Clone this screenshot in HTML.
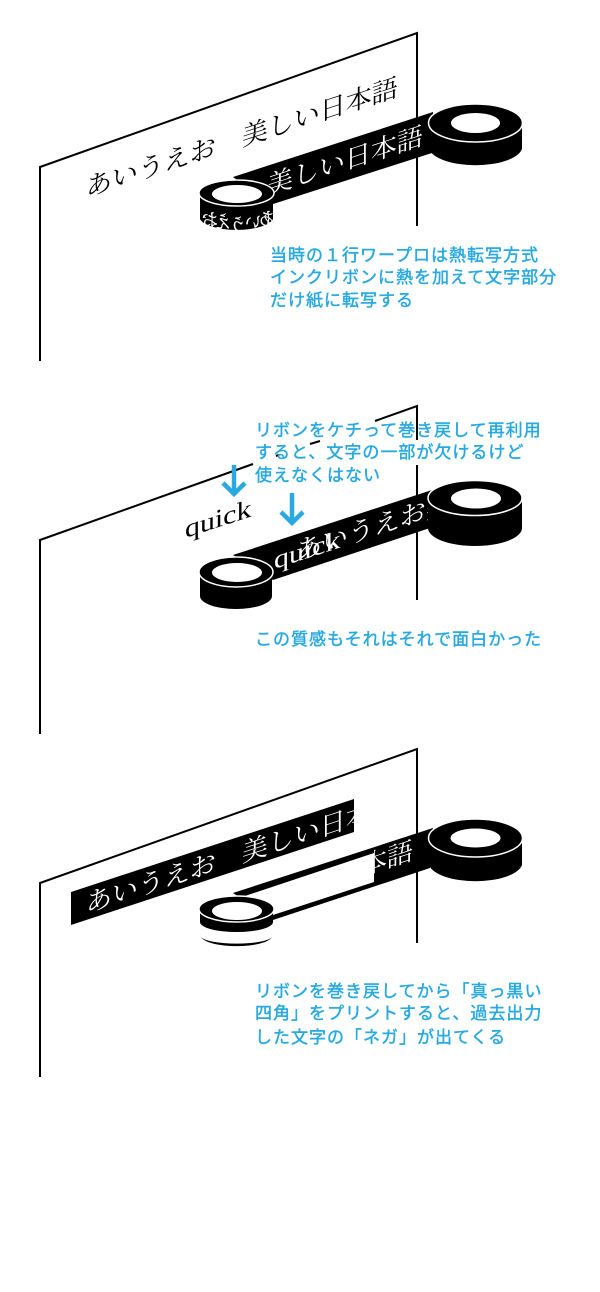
<!DOCTYPE html>
<html lang="ja"><head><meta charset="utf-8"><style>
html,body{margin:0;padding:0;background:#fff;width:600px;height:1292px;overflow:hidden}
svg{display:block}
.s{font-family:"Liberation Serif","Noto Serif CJK SC",serif;font-size:26px}
.q{font-family:"Liberation Serif",serif;font-size:26px}
.b{font-family:"Liberation Sans","Noto Sans CJK JP",sans-serif;font-size:17px;font-weight:400;fill:#29a9e0;stroke:#29a9e0;stroke-width:.45px;letter-spacing:1px}
.w{fill:#fff}
</style></head><body>
<svg width="600" height="1292" viewBox="0 0 600 1292" xmlns="http://www.w3.org/2000/svg">
<defs>
<clipPath id="r1"><polygon points="233,177 433,112 435,152 270,205"/></clipPath>
<clipPath id="r2"><polygon points="233,555 432,490 430,528 273,580"/></clipPath>
<clipPath id="r3"><polygon points="374,800 440,800 440,890 374,890"/></clipPath>
<clipPath id="p3"><polygon points="71,892 354,799 354,832 71,925"/></clipPath>
<clipPath id="sd"><path d="M199,195 V219 A37,13 0 0 0 274,219 V195 Z"/></clipPath>
</defs>

<!-- Panel 1 -->
<path d="M40,361 V167 L417,33 V226" fill="none" stroke="#000" stroke-width="2"/>
<text class="s" transform="matrix(1,-.325,0,1,86,197)">あいうえお　美しい日本語</text>
<polygon points="233,177 433,112 435,152 270,205"/>
<g clip-path="url(#r1)"><text class="s w" transform="matrix(1,-.325,0,1,267,195)">美しい日本語</text></g>
<path d="M429,123 V149 A47,19 0 0 0 522,149 V123 Z"/>
<ellipse cx="475.500" cy="123" rx="47" ry="19" stroke="#fff" stroke-width="1.500"/>
<ellipse cx="475.500" cy="123" rx="24.500" ry="10" fill="#fff"/>
<path d="M200,193 V219 A37,13 0 0 0 273,219 V193 Z"/>
<ellipse cx="236.500" cy="193" rx="37.500" ry="13" stroke="#fff" stroke-width="1.500"/>
<ellipse cx="237" cy="194" rx="25" ry="9" fill="#fff"/>
<g clip-path="url(#sd)" class="w" style="font-family:'Noto Serif CJK SC',serif;font-size:16px;stroke:#fff;stroke-width:.3px">
<text transform="translate(218,226) scale(-1,1.100)">お</text>
<text transform="translate(231,228) scale(-1,1.100)">え</text>
<text transform="translate(246,231) scale(-1,1.100)">う</text>
<text transform="translate(261,228) scale(-1,1.100)">い</text>
<text transform="translate(275,225) scale(-1,1.100)">あ</text>
</g>
<g class="b">
<text x="270" y="261">当時の１行ワープロは熱転写方式</text>
<text x="270" y="283">インクリボンに熱を加えて文字部分</text>
<text x="270" y="306">だけ紙に転写する</text>
</g>

<!-- Panel 2 -->
<path d="M40,734 V540 L253,464 M276,456 L279,455 M310,444 L320,441 M375,421 L417,406 V440 M417,465 V600" fill="none" stroke="#000" stroke-width="2"/>
<polygon points="233,555 432,490 430,528 273,580"/>
<g clip-path="url(#r2)" class="w">
<text class="s" transform="matrix(1,-.325,0,1,296,561)">あいうえお美</text>
<text class="q" transform="matrix(1.150,-.374,0,1,274,569)">quick</text>
</g>
<text class="q" transform="matrix(1.150,-.374,0,1,185,538)">quick</text>
<path d="M428,498 V528 A47,18 0 0 0 522,528 V498 Z"/>
<ellipse cx="475" cy="498" rx="47" ry="17.500" stroke="#fff" stroke-width="1.500"/>
<ellipse cx="476" cy="498.500" rx="25" ry="10" fill="#fff"/>
<path d="M200,571 V596 A36,13 0 0 0 272,596 V571 Z"/>
<ellipse cx="236" cy="572" rx="37" ry="15" stroke="#fff" stroke-width="1.500"/>
<ellipse cx="237" cy="572.500" rx="25" ry="9.500" fill="#fff"/>
<g class="b">
<text x="255" y="436">リボンをケチって巻き戻して再利用</text>
<text x="255" y="458">すると、文字の一部が欠けるけど</text>
<text x="255" y="481">使えなくはない</text>
<text x="255" y="645">この質感もそれはそれで面白かった</text>
</g>
<g fill="none" stroke="#29a9e0" stroke-width="4.500">
<path d="M234,465 V494 M223,483 L234,494 L245,483"/>
<path d="M292,493 V523 M281,512 L292,523 L303,512"/>
</g>

<!-- Panel 3 -->
<path d="M40,1077 V883 L417,749 V943" fill="none" stroke="#000" stroke-width="2"/>
<polygon points="71,892 354,799 354,832 71,925"/>
<g clip-path="url(#p3)"><text class="s w" transform="matrix(1,-.325,0,1,86,913)">あいうえお　美しい日本語</text></g>
<polygon points="233,893 433,828 430,868 273,920"/>
<polygon points="242,897 374,853 374,882 273,915" fill="#fff"/>
<g clip-path="url(#r3)"><text class="s w" transform="matrix(1,-.325,0,1,361,876)">本語</text></g>
<path d="M429,838 V865 A47,19 0 0 0 522,865 V838 Z"/>
<ellipse cx="475.500" cy="838" rx="47" ry="19" stroke="#fff" stroke-width="1.500"/>
<ellipse cx="475.500" cy="838" rx="25" ry="9.500" fill="#fff"/>
<path d="M200,909 V922 A36.500,10 0 0 0 273,922 V909 Z"/>
<path d="M201,937 A36,11 0 0 0 272,937 A36,8 0 0 1 201,937 Z"/>
<ellipse cx="236.500" cy="909" rx="37.500" ry="13" stroke="#fff" stroke-width="1.500"/>
<ellipse cx="237" cy="911" rx="25" ry="9" fill="#fff"/>
<g class="b">
<text x="255" y="997">リボンを巻き戻してから「真っ黒い</text>
<text x="255" y="1019">四角」をプリントすると、過去出力</text>
<text x="255" y="1043">した文字の「ネガ」が出てくる</text>
</g>
</svg>
</body></html>
